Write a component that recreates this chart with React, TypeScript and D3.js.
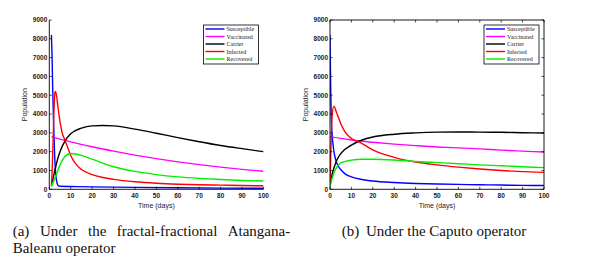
import React from "react";
import * as d3 from "d3";

// ---------- data ----------
const seriesNames = ["Susceptible", "Vaccinated", "Carrier", "Infected", "Recovered"];
const seriesColors = ["#0000ff", "#ff00ff", "#000000", "#ff0000", "#00ee00"];
const yTicks = [0, 1000, 2000, 3000, 4000, 5000, 6000, 7000, 8000, 9000];
const xTicks = [0, 10, 20, 30, 40, 50, 60, 70, 80, 90, 100];

// (a) fractal-fractional Atangana-Baleanu
const abSusceptibleT = [1, 1.3, 1.6, 2, 2.5, 3, 3.5, 4, 5, 10, 20, 40, 60, 80, 100];
const abSusceptible = [8200, 7000, 5300, 3500, 1800, 800, 400, 220, 160, 150, 130, 100, 80, 65, 55];
const abVaccinatedT = [1, 10, 20, 30, 40, 50, 60, 70, 80, 90, 100];
const abVaccinated = [2800, 2520, 2260, 2030, 1820, 1630, 1460, 1310, 1180, 1060, 960];
const abCarrierT = [1, 2, 3, 4, 5, 7.5, 10, 15, 20, 25, 30, 40, 50, 60, 70, 80, 90, 100];
const abCarrier = [200, 700, 1200, 1650, 2000, 2600, 2950, 3250, 3370, 3390, 3370, 3200, 2980, 2750, 2530, 2330, 2160, 2000];
const abInfectedT = [1, 1.5, 2, 2.5, 2.8, 3.5, 4, 5, 6, 7, 8, 10, 12, 15, 20, 25, 30, 40, 50, 60, 70, 80, 90, 100];
const abInfected = [200, 1500, 3500, 5000, 5200, 4900, 4400, 3600, 3000, 2700, 2400, 1800, 1400, 1050, 780, 630, 530, 400, 320, 270, 240, 220, 200, 185];
const abRecoveredT = [1, 3, 5, 7, 10, 15, 20, 30, 40, 50, 60, 70, 80, 90, 100];
const abRecovered = [150, 700, 1300, 1700, 1900, 1800, 1600, 1200, 950, 780, 660, 580, 520, 470, 440];

// (b) Caputo
const cSusceptibleT = [0, 0.3, 0.6, 1, 1.5, 2, 3, 4, 5, 7, 10, 15, 20, 30, 40, 50, 60, 70, 80, 90, 100];
const cSusceptible = [8200, 5500, 3800, 2900, 2300, 1900, 1450, 1200, 1050, 820, 660, 520, 440, 360, 310, 280, 260, 240, 225, 210, 200];
const cVaccinatedT = [0, 10, 20, 30, 40, 50, 60, 70, 80, 90, 100];
const cVaccinated = [2800, 2620, 2500, 2400, 2320, 2250, 2200, 2150, 2080, 2030, 1980];
const cCarrierT = [0, 1, 3, 5, 10, 15, 20, 30, 40, 50, 60, 70, 80, 90, 100];
const cCarrier = [200, 800, 1500, 1900, 2350, 2620, 2780, 2930, 3000, 3040, 3050, 3040, 3030, 3010, 2990];
const cInfectedT = [0, 0.5, 1, 1.8, 3, 5, 7, 10, 14, 20, 30, 40, 50, 60, 70, 80, 90, 100];
const cInfected = [200, 2500, 3900, 4420, 4100, 3500, 3050, 2700, 2500, 2100, 1700, 1450, 1300, 1180, 1080, 1000, 940, 900];
const cRecoveredT = [0, 1, 3, 5, 10, 15, 20, 30, 40, 50, 60, 70, 80, 90, 100];
const cRecovered = [150, 600, 1150, 1400, 1550, 1600, 1600, 1560, 1480, 1420, 1360, 1300, 1250, 1200, 1150];

const captionA1Words = ["(a)", "Under", "the", "fractal-fractional", "Atangana-"];
const captionA2 = "Baleanu operator";
const captionBLabel = "(b)";
const captionB = "Under the Caputo operator";

type Series = { t: number[]; v: number[] };

const panelA: Series[] = [
  { t: abSusceptibleT, v: abSusceptible },
  { t: abVaccinatedT, v: abVaccinated },
  { t: abCarrierT, v: abCarrier },
  { t: abInfectedT, v: abInfected },
  { t: abRecoveredT, v: abRecovered },
];
const panelB: Series[] = [
  { t: cSusceptibleT, v: cSusceptible },
  { t: cVaccinatedT, v: cVaccinated },
  { t: cCarrierT, v: cCarrier },
  { t: cInfectedT, v: cInfected },
  { t: cRecoveredT, v: cRecovered },
];

const tickFont = "'Liberation Sans', Arial, sans-serif";
const serif = "'Liberation Serif', 'Times New Roman', serif";

function Panel({ x0, x1, y0, y1, data, box, legendX }: {
  x0: number; x1: number; y0: number; y1: number; data: Series[]; box: boolean; legendX: number;
}) {
  const x = d3.scaleLinear().domain([0, 100]).range([x0, x1]);
  const y = d3.scaleLinear().domain([0, 9000]).range([y1, y0]);
  const line = d3.line<[number, number]>().x(d => x(d[0])).y(d => y(d[1])).curve(d3.curveMonotoneX);
  const tl = 2.5;
  const legendW = 55;
  const legendY = 25;
  const rowH = 7.5;
  return (
    <g>
      <defs>
        <clipPath id={`clip${Math.round(x0)}`}>
          <rect x={x0} y={y0} width={x1 - x0} height={y1 - y0} />
        </clipPath>
      </defs>
      <g clipPath={`url(#clip${Math.round(x0)})`}>
        {data.map((s, i) => (
          <path key={i} d={line(s.t.map((t, j) => [t, s.v[j]] as [number, number])) || ""}
            fill="none" stroke={seriesColors[i]} strokeWidth={1.4} />
        ))}
      </g>
      <line x1={x0} x2={x0} y1={y0} y2={y1} stroke="#000" strokeWidth={0.9} />
      <line x1={x0} x2={x1} y1={y1} y2={y1} stroke="#000" strokeWidth={0.9} />
      {box && <line x1={x0} x2={x1} y1={y0} y2={y0} stroke="#000" strokeWidth={0.9} />}
      {box && <line x1={x1} x2={x1} y1={y0} y2={y1} stroke="#000" strokeWidth={0.9} />}
      {yTicks.map(v => (
        <g key={"y" + v}>
          <line x1={x0} x2={x0 + tl} y1={y(v)} y2={y(v)} stroke="#000" strokeWidth={0.7} />
          {box && <line x1={x1} x2={x1 - tl} y1={y(v)} y2={y(v)} stroke="#000" strokeWidth={0.7} />}
          <text x={x0 - 2} y={y(v)} dy="0.35em" textAnchor="end" fontFamily={tickFont} fontWeight="bold" fontSize={6.5} fill="#222">{v}</text>
        </g>
      ))}
      {xTicks.map(v => (
        <g key={"x" + v}>
          <line x1={x(v)} x2={x(v)} y1={y1} y2={y1 - tl} stroke="#000" strokeWidth={0.7} />
          {box && <line x1={x(v)} x2={x(v)} y1={y0} y2={y0 + tl} stroke="#000" strokeWidth={0.7} />}
          <text x={x(v)} y={y1 + 8.5} textAnchor="middle" fontFamily={tickFont} fontWeight="bold" fontSize={6.5} fill="#222">{v}</text>
        </g>
      ))}
      <text x={(x0 + x1) / 2} y={y1 + 19} textAnchor="middle" fontFamily={tickFont} fontSize={7} fill="#222">Time (days)</text>
      <text transform={`translate(${x0 - 22},${(y0 + y1) / 2}) rotate(-90)`} textAnchor="middle" fontFamily={tickFont} fontSize={7} fill="#222">Population</text>
      <rect x={legendX} y={legendY} width={legendW} height={39} fill="#fff" stroke="#000" strokeWidth={0.8} />
      {seriesNames.map((n, i) => (
        <g key={n}>
          <line x1={legendX + 2} x2={legendX + 21} y1={legendY + 4 + i * rowH} y2={legendY + 4 + i * rowH} stroke={seriesColors[i]} strokeWidth={1.4} />
          <text x={legendX + 23} y={legendY + 4 + i * rowH} dy="0.35em" fontFamily={serif} fontSize={6} fill="#222">{n}</text>
        </g>
      ))}
    </g>
  );
}

const captionAWordX = [12.7, 40, 88, 116.7, 227.7];

export default function App() {
  return (
    <svg width={590} height={269} style={{ position: "absolute", left: 0, top: 0, background: "#fff" }}>
      <rect width={590} height={269} fill="#fff" />
      <Panel x0={49.3} x1={263.5} y0={20} y1={189.3} data={panelA} box={false} legendX={203.5} />
      <Panel x0={330} x1={544} y0={20} y1={189.3} data={panelB} box={true} legendX={484} />
      {captionA1Words.map((w, i) => (
        <text key={w} x={captionAWordX[i]} y={235.5} fontFamily={serif} fontSize={15} fill="#111">{w}</text>
      ))}
      <text x={12.7} y={253} fontFamily={serif} fontSize={15} fill="#111">{captionA2}</text>
      <text x={341.7} y={235.5} fontFamily={serif} fontSize={15} fill="#111">{captionBLabel}</text>
      <text x={366} y={235.5} fontFamily={serif} fontSize={15} fill="#111">{captionB}</text>
    </svg>
  );
}
